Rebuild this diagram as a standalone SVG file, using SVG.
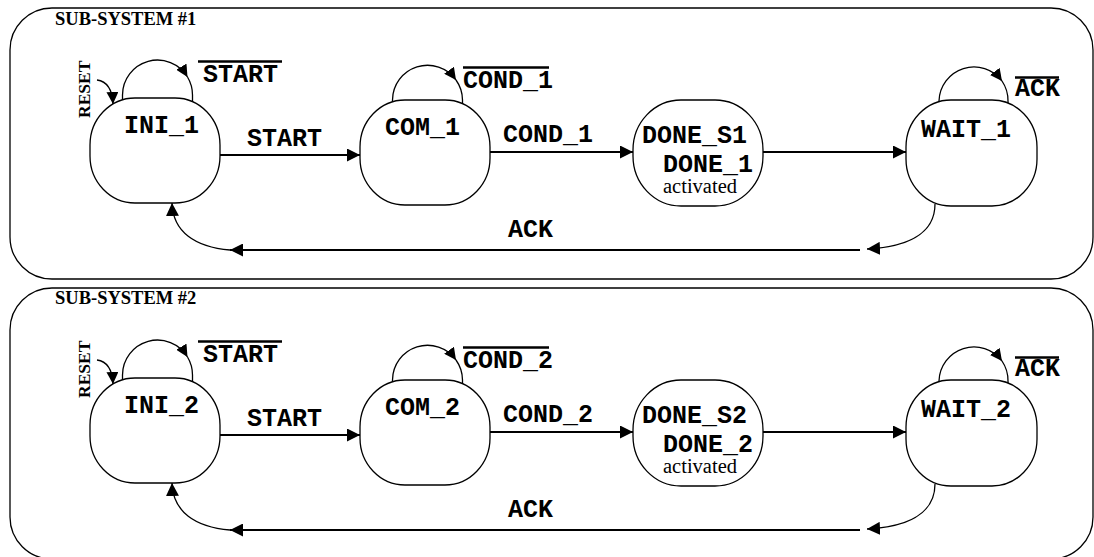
<svg xmlns="http://www.w3.org/2000/svg" width="1094" height="557" viewBox="0 0 1094 557">
<style>
.panel{fill:none;stroke:#000;stroke-width:1.3}
.node{fill:#fff;stroke:#000;stroke-width:1.3}
.mono{font-family:"Liberation Mono","Courier New",monospace;font-weight:bold;font-size:25px;fill:#000}
.serifb{font-family:"Liberation Serif","Times New Roman",serif;font-weight:bold;fill:#000}
.serif{font-family:"Liberation Serif","Times New Roman",serif;font-size:20.5px;fill:#000}
.thin{fill:none;stroke:#000;stroke-width:1.3}
.thick{fill:none;stroke:#000;stroke-width:2.2}
.over{stroke:#000;stroke-width:2.6}
</style>
<defs>
<marker id="ah" viewBox="0 0 12 12" refX="12" refY="6" markerWidth="13" markerHeight="13" markerUnits="userSpaceOnUse" orient="auto"><path d="M0,0 L12,6 L0,12 z" fill="#000"/></marker>
<marker id="ahs" viewBox="0 0 12 12" refX="12" refY="6" markerWidth="12" markerHeight="12" markerUnits="userSpaceOnUse" orient="auto"><path d="M0,0 L12,6 L0,12 z" fill="#000"/></marker>
</defs>
<rect width="1094" height="557" fill="#fff"/>

<!-- Panel 1 -->
<g id="subsystem1">
<rect class="panel" x="10" y="8" width="1083" height="271" rx="42" ry="42"/>
<text class="serifb" x="55" y="25" font-size="18.5">SUB-SYSTEM #1</text>
</g>
<g id="connectors1">
<path class="thin" d="M97,80 Q112,82 113,104" marker-end="url(#ahs)"/>
<path class="thin" d="M122.5,108 L122.5,95 A35,35 0 0 1 187.5,77" marker-end="url(#ahs)"/>
<path class="thin" d="M187.5,77 A35,35 0 0 1 192.5,95 L192.5,108"/>
<path class="thin" d="M392.5,108 L392.5,100 A35,35 0 0 1 456,80" marker-end="url(#ahs)"/>
<path class="thin" d="M456,80 A35,35 0 0 1 462.5,100 L462.5,108"/>
<path class="thin" d="M939,108 L939,101 A35,35 0 0 1 1002,81" marker-end="url(#ahs)"/>
<path class="thin" d="M1002,81 A35,35 0 0 1 1008,101 L1008,108"/>
<path class="thick" d="M220,155 L360,155" marker-end="url(#ah)"/>
<path class="thick" d="M490,152 L633,152" marker-end="url(#ah)"/>
<path class="thick" d="M763,152 L906,152" marker-end="url(#ah)"/>
<path class="thin" d="M935,204 C935,235 905,247 867,249" marker-end="url(#ah)"/>
<path class="thick" d="M860,250 L230,250" marker-end="url(#ah)"/>
<path class="thin" d="M230,250 C195,247 173,232 172,203" marker-end="url(#ah)"/>
<line class="over" x1="198" y1="61.5" x2="282" y2="61.5"/>
<line class="over" x1="463" y1="67.5" x2="549" y2="67.5"/>
<line class="over" x1="1015" y1="77.5" x2="1059" y2="77.5"/>
<text class="mono" x="203" y="82">START</text>
<text class="mono" x="463" y="88">COND_1</text>
<text class="mono" x="1015" y="96">ACK</text>
<text class="mono" x="247" y="146">START</text>
<text class="mono" x="503" y="142">COND_1</text>
<text class="mono" x="508" y="237">ACK</text>
<text class="serifb" font-size="17.5" transform="translate(90,118) rotate(-90)">RESET</text>
</g>
<g id="INI_1"><rect class="node" x="90" y="98" width="130" height="105" rx="45" ry="47"/><text class="mono" x="124" y="133">INI_1</text></g>
<g id="COM_1"><rect class="node" x="360" y="100" width="130" height="105" rx="45" ry="47"/><text class="mono" x="385" y="135">COM_1</text></g>
<g id="DONE_S1"><rect class="node" x="633" y="100" width="130" height="106" rx="48" ry="50"/><text class="mono" x="642" y="143">DONE_S1</text><text class="mono" x="663" y="172">DONE_1</text><text class="serif" x="663" y="193">activated</text></g>
<g id="WAIT_1"><rect class="node" x="906" y="100" width="131" height="106" rx="45" ry="47"/><text class="mono" x="921" y="137">WAIT_1</text></g>

<!-- Panel 2 -->
<g id="subsystem2">
<rect class="panel" x="10" y="288" width="1083" height="271" rx="42" ry="42"/>
<text class="serifb" x="55" y="304" font-size="18.5">SUB-SYSTEM #2</text>
</g>
<g id="connectors2" transform="translate(0,280)">
<path class="thin" d="M97,80 Q112,82 113,104" marker-end="url(#ahs)"/>
<path class="thin" d="M122.5,108 L122.5,95 A35,35 0 0 1 187.5,77" marker-end="url(#ahs)"/>
<path class="thin" d="M187.5,77 A35,35 0 0 1 192.5,95 L192.5,108"/>
<path class="thin" d="M392.5,108 L392.5,100 A35,35 0 0 1 456,80" marker-end="url(#ahs)"/>
<path class="thin" d="M456,80 A35,35 0 0 1 462.5,100 L462.5,108"/>
<path class="thin" d="M939,108 L939,101 A35,35 0 0 1 1002,81" marker-end="url(#ahs)"/>
<path class="thin" d="M1002,81 A35,35 0 0 1 1008,101 L1008,108"/>
<path class="thick" d="M220,155 L360,155" marker-end="url(#ah)"/>
<path class="thick" d="M490,152 L633,152" marker-end="url(#ah)"/>
<path class="thick" d="M763,152 L906,152" marker-end="url(#ah)"/>
<path class="thin" d="M935,204 C935,235 905,247 867,249" marker-end="url(#ah)"/>
<path class="thick" d="M860,250 L230,250" marker-end="url(#ah)"/>
<path class="thin" d="M230,250 C195,247 173,232 172,203" marker-end="url(#ah)"/>
<line class="over" x1="198" y1="61.5" x2="282" y2="61.5"/>
<line class="over" x1="463" y1="67.5" x2="549" y2="67.5"/>
<line class="over" x1="1015" y1="77.5" x2="1059" y2="77.5"/>
<text class="mono" x="203" y="82">START</text>
<text class="mono" x="463" y="88">COND_2</text>
<text class="mono" x="1015" y="96">ACK</text>
<text class="mono" x="247" y="146">START</text>
<text class="mono" x="503" y="142">COND_2</text>
<text class="mono" x="508" y="237">ACK</text>
<text class="serifb" font-size="17.5" transform="translate(90,118) rotate(-90)">RESET</text>
</g>
<g id="INI_2" transform="translate(0,280)"><rect class="node" x="90" y="98" width="130" height="105" rx="45" ry="47"/><text class="mono" x="124" y="133">INI_2</text></g>
<g id="COM_2" transform="translate(0,280)"><rect class="node" x="360" y="100" width="130" height="105" rx="45" ry="47"/><text class="mono" x="385" y="135">COM_2</text></g>
<g id="DONE_S2" transform="translate(0,280)"><rect class="node" x="633" y="100" width="130" height="106" rx="48" ry="50"/><text class="mono" x="642" y="143">DONE_S2</text><text class="mono" x="663" y="172">DONE_2</text><text class="serif" x="663" y="193">activated</text></g>
<g id="WAIT_2" transform="translate(0,280)"><rect class="node" x="906" y="100" width="131" height="106" rx="45" ry="47"/><text class="mono" x="921" y="137">WAIT_2</text></g>
</svg>
